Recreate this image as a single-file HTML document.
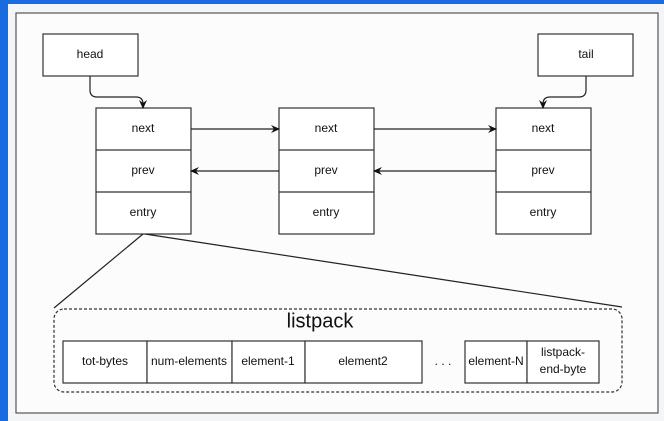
<!DOCTYPE html>
<html><head><meta charset="utf-8"><style>
html,body{margin:0;padding:0;background:#f4f5f6;width:664px;height:421px;overflow:hidden}
svg text{font-family:"Liberation Sans",Arial,sans-serif;font-size:12px;fill:#111;text-anchor:middle;dominant-baseline:middle}
</style></head><body>
<svg width="664" height="421" viewBox="0 0 664 421">
<defs><marker id="a" markerWidth="10" markerHeight="10" refX="8" refY="5" orient="auto" markerUnits="userSpaceOnUse"><path d="M0,1 L9,5 L0,9 L3,5 Z" fill="#111"/></marker></defs>
<rect x="0" y="0" width="664" height="421" fill="#f4f5f6"/>
<rect x="0" y="0" width="664" height="4" fill="#1a6be0"/>
<rect x="0" y="0" width="8" height="421" fill="#1a6be0"/>
<rect x="16" y="13" width="642" height="400" fill="#fcfcfc" stroke="#555" stroke-width="1.2"/>
<g fill="#fff" stroke="#333" stroke-width="1.2">
<rect x="43" y="34" width="95" height="42"/>
<rect x="538" y="34" width="95" height="42"/>
<rect x="96" y="108" width="95" height="126"/>
<rect x="279" y="108" width="95" height="126"/>
<rect x="496" y="108" width="95" height="126"/>
</g>
<g stroke="#333" stroke-width="1.2">
<line x1="96" y1="150" x2="191" y2="150"/><line x1="96" y1="192" x2="191" y2="192"/>
<line x1="279" y1="150" x2="374" y2="150"/><line x1="279" y1="192" x2="374" y2="192"/>
<line x1="496" y1="150" x2="591" y2="150"/><line x1="496" y1="192" x2="591" y2="192"/>
</g>
<g stroke="#222" stroke-width="1.2" fill="none" marker-end="url(#a)">
<line x1="191" y1="129" x2="279" y2="129"/>
<line x1="374" y1="129" x2="496" y2="129"/>
<line x1="279" y1="171" x2="191" y2="171"/>
<line x1="496" y1="171" x2="374" y2="171"/>
<path d="M90,76 V90 Q90,97 97,97 H136 Q143,97 143,104 V108"/>
<path d="M586,76 V90 Q586,97 579,97 H550 Q543,97 543,104 V108"/>
</g>
<g stroke="#222" stroke-width="1.2">
<line x1="143" y1="234" x2="54" y2="308"/>
<line x1="145" y1="234" x2="622" y2="307"/>
</g>
<rect x="54" y="309" width="568" height="83" rx="10" fill="none" stroke="#333" stroke-width="1.2" stroke-dasharray="3,2"/>
<text x="320" y="322" style="font-size:20px">listpack</text>
<g fill="#fff" stroke="#333" stroke-width="1.2">
<rect x="63" y="341" width="84" height="42"/><rect x="147" y="341" width="85" height="42"/>
<rect x="232" y="341" width="73" height="42"/><rect x="305" y="341" width="117" height="42"/>
<rect x="465" y="341" width="62" height="42"/><rect x="527" y="341" width="72" height="42"/>
</g>
<text x="90" y="55">head</text><text x="586" y="55">tail</text>
<text x="143" y="129">next</text><text x="143" y="171">prev</text><text x="143" y="213">entry</text>
<text x="326" y="129">next</text><text x="326" y="171">prev</text><text x="326" y="213">entry</text>
<text x="543" y="129">next</text><text x="543" y="171">prev</text><text x="543" y="213">entry</text>
<text x="105" y="362">tot-bytes</text><text x="189" y="362">num-elements</text>
<text x="268" y="362">element-1</text><text x="363" y="362">element2</text>
<text x="443" y="362">. . .</text>
<text x="496" y="362">element-N</text>
<text x="563" y="353">listpack-</text><text x="563" y="370">end-byte</text>
</svg>
</body></html>
